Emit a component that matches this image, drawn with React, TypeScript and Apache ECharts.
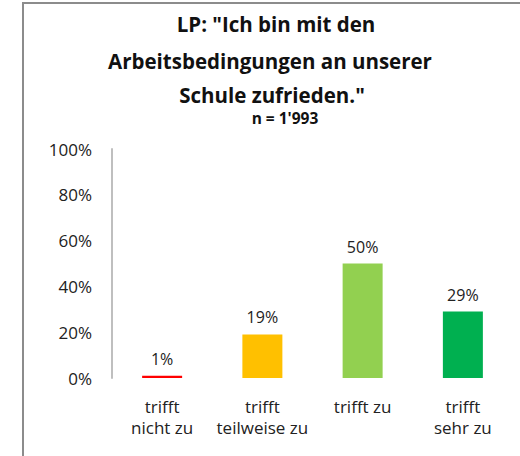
import React, { useEffect, useRef } from "react";
import * as echarts from "echarts";

const categories = ["trifft\nnicht zu", "trifft\nteilweise zu", "trifft zu", "trifft\nsehr zu"];
const values = [1, 19, 50, 29];
const colors = ["#ff0000", "#ffc000", "#92d050", "#00b050"];
const titleLines = ['LP: "Ich bin mit den', "Arbeitsbedingungen an unserer", 'Schule zufrieden."'];
const subtitle = "n = 1'993";

const FONT = "'Open Sans', 'Noto Sans', sans-serif";
const titleY = [24, 61, 95];
const titleX = [276, 270, 272];

export default function App() {
  const ref = useRef<HTMLDivElement>(null);
  useEffect(() => {
    if (!ref.current) return;
    const chart = echarts.init(ref.current, null, { renderer: "svg" });
    const titleTexts = titleLines.map((t, i) => ({
      type: "text",
      x: titleX[i],
      y: titleY[i],
      style: {
        text: t,
        fontFamily: FONT,
        fontSize: 20.5,
        fontWeight: "bold",
        fill: "#111",
        align: "center",
        verticalAlign: "middle",
        lineHeight: 24,
      },
    }));
    chart.setOption({
      animation: false,
      backgroundColor: "#ffffff",
      textStyle: { fontFamily: FONT },
      graphic: [
        { type: "line", shape: { x1: 23, y1: 3, x2: 23, y2: 456 }, style: { stroke: "#8c8c8c", lineWidth: 2 } },
        { type: "line", shape: { x1: 22, y1: 3, x2: 520, y2: 3 }, style: { stroke: "#8c8c8c", lineWidth: 2 } },
        ...titleTexts,
        {
          type: "text",
          x: 285,
          y: 118,
          style: {
            text: subtitle,
            fontFamily: FONT,
            fontSize: 15.5,
            fontWeight: "bold",
            fill: "#111",
            align: "center",
            verticalAlign: "middle",
            lineHeight: 16,
          },
        },
      ],
      grid: { left: 112, right: 7, top: 149, bottom: 78 },
      xAxis: {
        type: "category",
        data: categories,
        axisLine: { show: false },
        axisTick: { show: false },
        axisLabel: { fontFamily: FONT, fontSize: 17, color: "#222", lineHeight: 21, margin: 18, interval: 0 },
      },
      yAxis: {
        type: "value",
        min: 0,
        max: 100,
        interval: 20,
        axisLine: { show: true, lineStyle: { color: "#bfbfbf", width: 2 } },
        axisTick: { show: false },
        splitLine: { show: false },
        axisLabel: { fontFamily: FONT, fontSize: 17, color: "#222", margin: 20, formatter: "{value}%" },
      },
      series: [
        {
          type: "bar",
          barWidth: 40,
          data: values.map((v, i) => ({ value: v, itemStyle: { color: colors[i] } })),
          label: {
            show: true,
            position: "top",
            distance: 9,
            fontFamily: FONT,
            fontSize: 16,
            color: "#222",
            formatter: "{c}%",
          },
        },
      ],
    });
    return () => chart.dispose();
  }, []);
  return <div ref={ref} style={{ position: "fixed", left: 0, top: 0, width: 520, height: 456 }} />;
}
